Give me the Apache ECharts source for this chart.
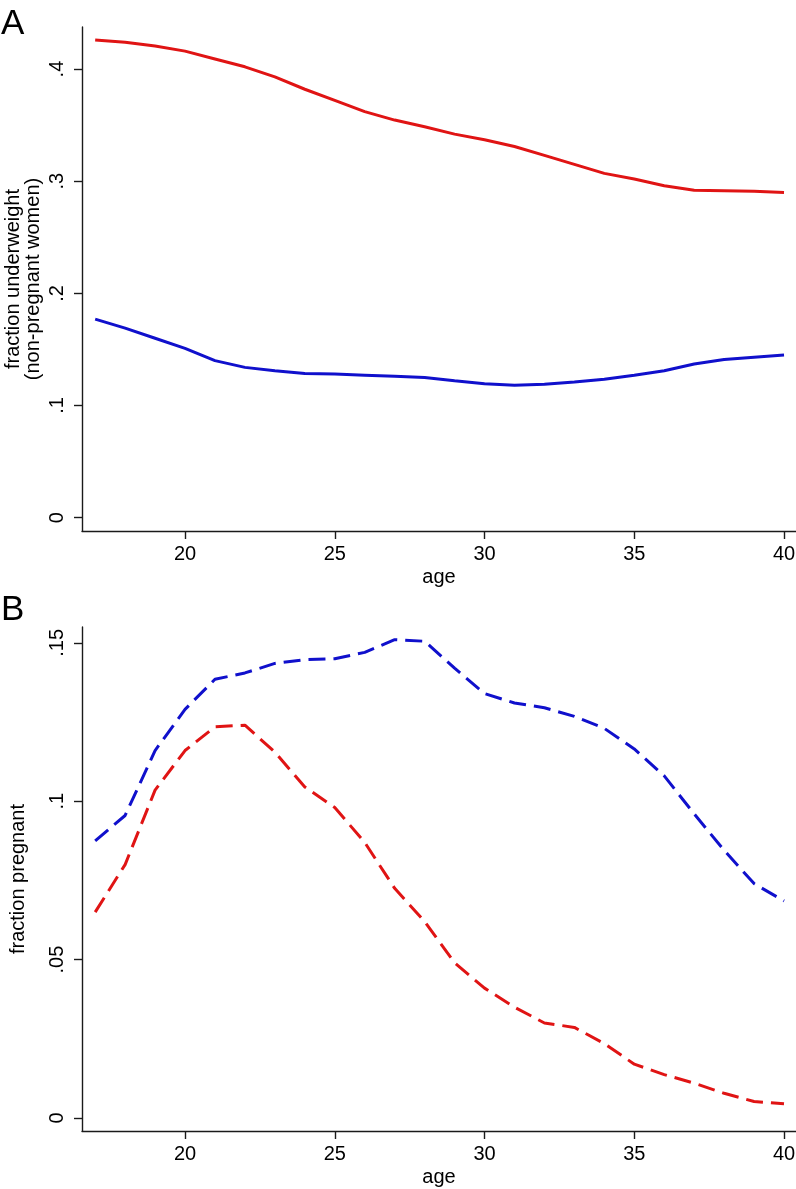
<!DOCTYPE html>
<html>
<head>
<meta charset="utf-8">
<script src="https://cdn.jsdelivr.net/npm/echarts@6/dist/echarts.min.js"></script>
<style>
html,body{margin:0;padding:0;background:#fff;}
#chart{width:796px;height:1189px;}
</style>
</head>
<body>
<div id="chart"></div>
<script>
// ---- data ----
const ages = [17,18,19,20,21,22,23,24,25,26,27,28,29,30,31,32,33,34,35,36,37,38,39,40];
// Panel A: fraction underweight (non-pregnant women)
const underweightRed  = [0.426,0.424,0.4205,0.416,0.409,0.402,0.393,0.382,0.372,0.362,0.3545,0.3485,0.342,0.337,0.331,0.323,0.315,0.307,0.302,0.296,0.292,0.2915,0.291,0.290];
const underweightBlue = [0.177,0.169,0.160,0.151,0.140,0.134,0.131,0.1285,0.128,0.127,0.126,0.125,0.122,0.1195,0.118,0.119,0.121,0.1235,0.127,0.131,0.137,0.141,0.143,0.145];
// Panel B: fraction pregnant
const pregnantRed  = [0.065,0.080,0.1035,0.116,0.1235,0.124,0.1155,0.1045,0.098,0.087,0.0725,0.062,0.049,0.041,0.035,0.030,0.0286,0.0235,0.017,0.0137,0.011,0.0078,0.0052,0.0045];
const pregnantBlue = [0.0875,0.0955,0.116,0.129,0.1385,0.1405,0.1435,0.1447,0.145,0.147,0.151,0.1505,0.142,0.134,0.131,0.1295,0.1268,0.123,0.1165,0.108,0.096,0.0845,0.074,0.0685];
// tick labels
const xTicks = [20,25,30,35,40];
const yTicksA = [0,0.1,0.2,0.3,0.4];
const yTicksB = [0,0.05,0.1,0.15];

const RED = '#e01414';
const BLUE = '#1010cc';
const AXIS = '#1a1a1a';
const FONT = 'Liberation Sans, Arial, Helvetica, sans-serif';

function fmt(v){ return v === 0 ? '0' : String(v).replace(/^0/, ''); }
function pairs(arr){ return ages.map((a,i)=>[a, arr[i]]); }

function xAxisCfg(gi){
  return {
    gridIndex: gi, type:'value', min:16.56, max:40.4,
    name:'age', nameLocation:'middle', nameGap:36, nameMoveOverlap:false,
    nameTextStyle:{fontFamily:FONT, fontSize:20, color:'#000'},
    axisLine:{show:true, onZero:false, lineStyle:{color:AXIS, width:1.4}},
    axisTick:{show:true, length:8, customValues:xTicks, lineStyle:{color:AXIS, width:1.4}},
    axisLabel:{customValues:xTicks, margin:13, fontFamily:FONT, fontSize:20, color:'#000'},
    splitLine:{show:false}
  };
}
function yAxisCfg(gi, min, max, ticks, name, gap){
  return {
    gridIndex: gi, type:'value', min:min, max:max,
    name:name, nameLocation:'middle', nameGap:gap, nameRotate:90, nameMoveOverlap:false,
    nameTextStyle:{fontFamily:FONT, fontSize:20, color:'#000', lineHeight:20, align:'center'},
    axisLine:{show:true, onZero:false, lineStyle:{color:AXIS, width:1.4}},
    axisTick:{show:true, length:8, customValues:ticks, lineStyle:{color:AXIS, width:1.4}},
    axisLabel:{customValues:ticks, rotate:90, margin:15, formatter:fmt, fontFamily:FONT, fontSize:20, color:'#000'},
    splitLine:{show:false}
  };
}

const chart = echarts.init(document.getElementById('chart'), null, {renderer:'canvas'});
chart.setOption({
  backgroundColor:'#fff',
  animation:false,
  graphic:[
    {type:'text', left:1, top:7, style:{text:'A', font:'35px ' + FONT, fill:'#000'}},
    {type:'text', left:1, top:593, style:{text:'B', font:'35px ' + FONT, fill:'#000'}}
  ],
  grid:[
    {left:82, top:27, width:714, height:504, containLabel:false, outerBoundsMode:'none'},
    {left:82, top:627, width:714, height:504, containLabel:false, outerBoundsMode:'none'}
  ],
  xAxis:[xAxisCfg(0), xAxisCfg(1)],
  yAxis:[
    yAxisCfg(0, -0.0119, 0.4375, yTicksA, 'fraction underweight\n(non-pregnant women)', 39),
    yAxisCfg(1, -0.0041, 0.155, yTicksB, 'fraction pregnant', 54)
  ],
  series:[
    {type:'line', xAxisIndex:0, yAxisIndex:0, data:pairs(underweightRed), showSymbol:false, lineStyle:{color:RED, width:3}},
    {type:'line', xAxisIndex:0, yAxisIndex:0, data:pairs(underweightBlue), showSymbol:false, lineStyle:{color:BLUE, width:3}},
    {type:'line', xAxisIndex:1, yAxisIndex:1, data:pairs(pregnantRed), showSymbol:false, lineStyle:{color:RED, width:3, type:[17,8]}},
    {type:'line', xAxisIndex:1, yAxisIndex:1, data:pairs(pregnantBlue), showSymbol:false, lineStyle:{color:BLUE, width:3, type:[17,8]}}
  ]
});
</script>
</body>
</html>
